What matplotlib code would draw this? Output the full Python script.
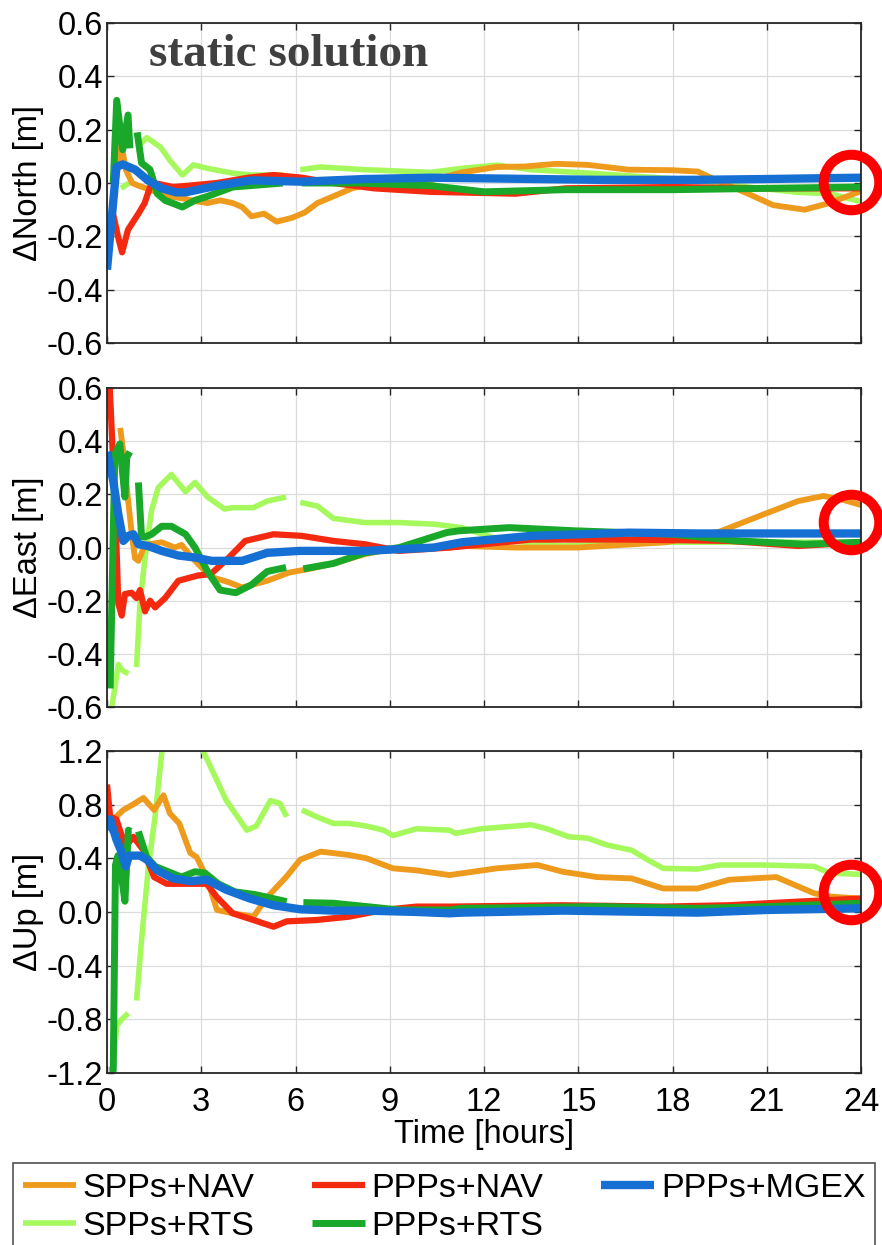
import numpy as np
import matplotlib
matplotlib.use("Agg")
import matplotlib.pyplot as plt

nan = np.nan

# ---- series: (time [h], offset [m]) per component ----
series_names = ["SPPs+RTS", "SPPs+NAV", "PPPs+NAV", "PPPs+RTS", "PPPs+MGEX"]

# North
n_spp_nav_t = [0.3, 0.45, 0.6, 0.8, 1.0, 1.5, 2.0, 2.5, 2.9, 3.2, 3.6, 4.0, 4.3, 4.6, 5.0, 5.4, 5.9, 6.3, 6.7, 7.2, 7.8, 8.5,
               10.3, 11.3, 12.4, 13.3, 14.3, 15.3, 16.6, 18.0, 18.8, 19.5, 20.4, 21.2, 22.2, 23.0, 24.0]
n_spp_nav = [0.02, 0.15, 0.05, 0.0, -0.01, -0.03, -0.05, -0.06, -0.07, -0.075, -0.065, -0.075, -0.09, -0.125, -0.115, -0.145,
             -0.13, -0.11, -0.075, -0.05, -0.02, 0.0, 0.01, 0.04, 0.06, 0.062, 0.072, 0.068, 0.05, 0.048, 0.043, 0.005, -0.04,
             -0.083, -0.1, -0.075, -0.03]
n_ppp_nav_t = [0.05, 0.2, 0.35, 0.48, 0.67, 1.0, 1.2, 1.37, 1.5, 2.1, 2.6, 3.5, 4.5, 5.3, 6.2, 7.2, 8.5, 10.3, 13.0, 14.6,
               18.0, 21.0, 24.0]
n_ppp_nav = [-0.21, -0.12, -0.2, -0.26, -0.175, -0.115, -0.075, -0.015, 0.0, -0.015, -0.01, 0.0, 0.02, 0.03, 0.02, 0.0,
             -0.02, -0.033, -0.04, -0.02, -0.015, -0.02, -0.02]
n_spp_rts_t = [0.45, 0.7, 0.85, 1.0, 1.27, 1.7, 2.0, 2.4, 2.75, 3.2, 4.0, 4.6, 5.6, 5.85, 6.15, 6.8, 8.2, 10.3, 11.3, 12.4,
               13.5, 15.6, 18.8, 20.4, 22.0, 23.0, 24.0]
n_spp_rts = [-0.02, 0.0, nan, 0.14, 0.17, 0.135, 0.085, 0.03, 0.068, 0.055, 0.037, 0.03, 0.03, nan, 0.05, 0.06, 0.05, 0.04,
             0.055, 0.067, 0.05, 0.035, 0.01, -0.015, -0.035, -0.04, -0.07]
n_ppp_rts_t = [0.2, 0.31, 0.5, 0.67, 0.73, 0.85, 0.96, 1.1, 1.37, 1.6, 1.85, 2.4, 2.8, 3.2, 4.0, 5.6, 5.85, 6.2, 8.0, 10.3,
               12.0, 14.6, 18.0, 21.0, 24.0]
n_ppp_rts = [0.0, 0.31, 0.125, 0.255, 0.13, nan, 0.19, 0.075, 0.05, -0.04, -0.065, -0.09, -0.065, -0.05, -0.015, 0.0, nan,
             0.0, 0.0, -0.01, -0.033, -0.025, -0.025, -0.02, -0.015]
n_ppp_mgex_t = [0.0, 0.3, 0.5, 0.9, 1.3, 1.75, 2.2, 2.5, 3.5, 4.6, 6.2, 8.2, 10.3, 15.6, 18.8, 21.0, 24.0]
n_ppp_mgex = [-0.325, 0.06, 0.07, 0.05, 0.01, -0.02, -0.035, -0.035, -0.01, 0.01, 0.005, 0.015, 0.02, 0.012, 0.012, 0.015,
              0.02]

# East
e_spp_nav_t = [0.42, 0.52, 0.63, 0.78, 0.89, 1.0, 1.21, 1.74, 2.16, 2.37, 2.8, 3.3, 3.86, 4.3, 5.1, 5.8, 6.45, 7.2, 8.2,
               9.3, 10.9, 11.3, 13.0, 15.0, 17.8, 19.5, 20.9, 22.0, 22.8, 23.4, 24.0]
e_spp_nav = [0.45, 0.36, 0.225, 0.06, -0.04, -0.05, 0.01, 0.02, 0.0, 0.01, -0.05, -0.11, -0.13, -0.15, -0.125, -0.094,
             -0.08, -0.06, -0.025, 0.0, 0.0, 0.006, 0.0, 0.0, 0.02, 0.06, 0.125, 0.175, 0.194, 0.18, 0.16]
e_ppp_nav_t = [0.08, 0.26, 0.36, 0.47, 0.57, 0.78, 0.94, 1.05, 1.21, 1.37, 1.53, 1.85, 2.27, 2.9, 3.3, 3.86, 4.4, 5.3, 6.2,
               7.2, 8.2, 9.3, 10.9, 13.5, 16.6, 19.8, 22.0, 24.0]
e_ppp_nav = [0.62, 0.16, -0.21, -0.256, -0.175, -0.17, -0.19, -0.16, -0.24, -0.2, -0.225, -0.19, -0.125, -0.105, -0.1,
             -0.04, 0.025, 0.05, 0.044, 0.025, 0.0125, -0.0125, 0.0, 0.03, 0.03, 0.025, 0.006, 0.02]
e_spp_rts_t = [0.13, 0.36, 0.47, 0.68, 0.8, 0.94, 1.05, 1.21, 1.42, 1.63, 2.05, 2.5, 2.8, 3.2, 3.74, 4.0, 4.66, 5.1, 5.7,
               5.9, 6.15, 6.7, 7.2, 8.2, 9.3, 10.4, 11.3, 12.5, 14.5, 17.8, 21.0, 24.0]
e_spp_rts = [-0.62, -0.44, -0.46, -0.475, nan, -0.45, -0.21, -0.04, 0.14, 0.225, 0.275, 0.21, 0.245, 0.19, 0.145, 0.15,
             0.15, 0.175, 0.19, nan, 0.17, 0.156, 0.11, 0.094, 0.094, 0.088, 0.075, 0.03, 0.006, 0.02, 0.02, 0.02]
e_ppp_rts_t = [0.1, 0.25, 0.41, 0.57, 0.63, 0.73, 0.85, 1.0, 1.1, 1.21, 1.42, 1.74, 2.05, 2.5, 2.8, 3.2, 3.6, 4.1, 4.6,
               5.1, 5.7, 5.9, 6.25, 7.2, 8.2, 9.3, 10.8, 11.2, 12.8, 14.9, 18.0, 20.1, 22.2, 24.0]
e_ppp_rts = [-0.53, 0.35, 0.39, 0.19, 0.34, 0.36, nan, 0.245, 0.04, 0.04, 0.05, 0.08, 0.08, 0.05, 0.0, -0.09, -0.16,
             -0.17, -0.14, -0.09, -0.075, nan, -0.08, -0.06, -0.02, 0.0, 0.056, 0.063, 0.075, 0.063, 0.05, 0.025, 0.0125,
             0.02]
e_ppp_mgex_t = [0.0, 0.2, 0.36, 0.52, 0.68, 0.84, 1.0, 1.3, 1.74, 2.27, 2.8, 3.33, 3.86, 4.3, 5.1, 6.15, 8.2, 10.4, 11.3,
                13.5, 16.6, 18.8, 24.0]
e_ppp_mgex = [0.36, 0.25, 0.125, 0.025, 0.044, 0.05, 0.0125, 0.006, -0.0125, -0.03, -0.0375, -0.05, -0.05, -0.05, -0.02,
              -0.0125, -0.0125, 0.0, 0.02, 0.044, 0.056, 0.053, 0.053]

# Up
u_spp_nav_t = [0.15, 0.2, 0.52, 0.82, 1.16, 1.5, 1.8, 2.0, 2.3, 2.65, 2.85, 3.17, 3.5, 4.0, 4.66, 5.1, 5.7, 6.15, 6.8,
               7.7, 8.26, 9.1, 9.85, 10.9, 12.4, 13.7, 14.5, 15.6, 16.7, 17.7, 18.8, 19.8, 21.3, 22.0, 22.5, 23.0, 24.0]
u_spp_nav = [0.59, 0.69, 0.76, 0.8, 0.85, 0.76, 0.87, 0.735, 0.66, 0.44, 0.41, 0.26, 0.015, -0.01, -0.035, 0.11, 0.26,
             0.39, 0.45, 0.425, 0.4, 0.325, 0.31, 0.275, 0.325, 0.35, 0.3, 0.26, 0.25, 0.175, 0.175, 0.24, 0.26, 0.19,
             0.14, 0.115, 0.1]
u_ppp_nav_t = [0.0, 0.1, 0.3, 0.44, 0.6, 0.84, 1.16, 1.5, 1.9, 2.74, 3.17, 3.5, 4.0, 4.66, 5.3, 5.72, 6.67, 7.7, 8.8,
               9.85, 10.9, 14.5, 17.7, 19.8, 22.0, 24.0]
u_ppp_nav = [0.95, 0.71, 0.69, 0.59, 0.49, 0.56, 0.46, 0.26, 0.21, 0.21, 0.21, 0.11, -0.01, -0.06, -0.11, -0.07, -0.06,
             -0.035, 0.015, 0.04, 0.04, 0.05, 0.04, 0.05, 0.077, 0.1]
u_spp_rts_t = [0.15, 0.31, 0.47, 0.68, 0.8, 0.94, 1.1, 1.32, 1.53, 1.74, 2.2, 2.6, 3.0, 3.06, 3.8, 4.45, 4.75, 5.2, 5.5,
               5.72, 5.95, 6.2, 6.67, 7.2, 7.7, 8.26, 8.8, 9.1, 9.85, 10.9, 11.1, 11.9, 13.5, 14.0, 14.7, 15.3, 15.9,
               16.7, 17.2, 17.7, 18.8, 19.5, 20.9, 22.5, 23.0, 24.0]
u_spp_rts = [-1.25, -0.85, -0.8, -0.755, nan, -0.66, -0.21, 0.34, 0.71, 1.18, 1.6, 1.7, 1.4, 1.2, 0.83, 0.61, 0.64, 0.83,
             0.81, 0.71, nan, 0.76, 0.71, 0.66, 0.66, 0.64, 0.61, 0.57, 0.62, 0.61, 0.586, 0.62, 0.65, 0.62, 0.56, 0.55,
             0.5, 0.46, 0.39, 0.325, 0.32, 0.35, 0.35, 0.34, 0.29, 0.28]
u_ppp_rts_t = [0.08, 0.2, 0.27, 0.35, 0.5, 0.57, 0.68, 0.75, 0.85, 1.0, 1.26, 1.53, 1.95, 2.37, 2.8, 3.12, 3.54, 4.07,
               4.7, 5.1, 5.72, 5.95, 6.25, 7.2, 8.26, 9.3, 10.9, 11.3, 15.6, 18.8, 21.0, 24.0]
u_ppp_rts = [-1.18, -1.18, 0.35, 0.42, 0.2, 0.08, 0.61, 0.6, nan, 0.6, 0.41, 0.34, 0.3, 0.26, 0.3, 0.29, 0.21, 0.15,
             0.13, 0.11, 0.077, nan, 0.07, 0.065, 0.04, 0.015, 0.015, 0.027, 0.04, 0.027, 0.04, 0.065]
u_ppp_mgex_t = [0.0, 0.1, 0.3, 0.44, 0.6, 0.7, 1.05, 1.27, 1.6, 2.1, 2.65, 3.17, 3.8, 4.55, 5.3, 6.15, 7.2, 8.26, 9.85,
                10.9, 11.3, 14.5, 18.8, 21.0, 24.0]
u_ppp_mgex = [0.61, 0.69, 0.54, 0.46, 0.34, 0.42, 0.42, 0.39, 0.31, 0.25, 0.23, 0.24, 0.165, 0.1, 0.05, 0.02, 0.01, 0.01,
              0.0, -0.01, -0.005, 0.01, -0.005, 0.015, 0.027]

# highlighted end-of-day positions (t, value) per panel
mark_t = 23.68
mark_v = [0.004, 0.096, 0.149]

panels = [
    ("\u0394North [m]", (-0.6, 0.6), np.arange(-0.6, 0.61, 0.2),
     [(n_spp_rts_t, n_spp_rts), (n_spp_nav_t, n_spp_nav), (n_ppp_nav_t, n_ppp_nav),
      (n_ppp_rts_t, n_ppp_rts), (n_ppp_mgex_t, n_ppp_mgex)]),
    ("\u0394East [m]", (-0.6, 0.6), np.arange(-0.6, 0.61, 0.2),
     [(e_spp_rts_t, e_spp_rts), (e_spp_nav_t, e_spp_nav), (e_ppp_nav_t, e_ppp_nav),
      (e_ppp_rts_t, e_ppp_rts), (e_ppp_mgex_t, e_ppp_mgex)]),
    ("\u0394Up [m]", (-1.2, 1.2), np.arange(-1.2, 1.21, 0.4),
     [(u_spp_rts_t, u_spp_rts), (u_spp_nav_t, u_spp_nav), (u_ppp_nav_t, u_ppp_nav),
      (u_ppp_rts_t, u_ppp_rts), (u_ppp_mgex_t, u_ppp_mgex)]),
]

styles = {
    "SPPs+RTS": dict(color="#a6f95c", lw=4.0),
    "SPPs+NAV": dict(color="#ee9a1c", lw=4.2),
    "PPPs+NAV": dict(color="#f42a10", lw=4.5),
    "PPPs+RTS": dict(color="#19a82a", lw=5.0),
    "PPPs+MGEX": dict(color="#1670d4", lw=6.0),
}

plt.rcParams["font.family"] = ["Liberation Sans", "DejaVu Sans"]

fig = plt.figure(figsize=(8.82, 12.45), dpi=100)
rects = [
    [0.1213, 0.7245, 0.855, 0.2570],
    [0.1213, 0.4321, 0.855, 0.2562],
    [0.1213, 0.1382, 0.855, 0.2586],
]

handles = {}
for i, (ylab, ylim, yticks, data) in enumerate(panels):
    ax = fig.add_axes(rects[i])
    for name, (t, v) in zip(series_names, data):
        ln, = ax.plot(t, v, solid_capstyle="butt", **styles[name])
        handles[name] = ln
    ax.plot([mark_t], [mark_v[i]], "o", ms=40, mfc="none", mec="#ff0000", mew=7.2,
            clip_on=False, zorder=10)

    ax.set_xlim(0, 24)
    ax.set_ylim(*ylim)
    ax.set_xticks(np.arange(0, 25, 3))
    ax.set_yticks(yticks)
    ax.set_yticklabels([f"{y:.1f}" for y in yticks])
    ax.grid(True, color="#dcdcdc", lw=0.9)
    ax.set_axisbelow(True)
    ax.tick_params(direction="in", top=True, right=True, length=5, width=1.0,
                   labelsize=23.5, pad=3, color="#262626")
    ax.tick_params(axis="x", pad=10)
    for sp in ax.spines.values():
        sp.set_color("#262626")
        sp.set_linewidth(1.3)
    ax.set_ylabel(ylab, fontsize=23.5)
    ax.yaxis.set_label_coords(-0.084, 0.5)
    if i < 2:
        ax.tick_params(axis="x", labelbottom=False)
    else:
        ax.set_xlabel("Time [hours]", fontsize=23.5, labelpad=1)
    if i == 0:
        ax.text(0.241, 0.90, "static solution", transform=ax.transAxes, ha="center", va="center",
                fontsize=34, fontweight="bold", family="Liberation Serif", color="#404040")

# legend laid out row-wise: row 1 NAV/NAV/MGEX, row 2 RTS/RTS
order = ["SPPs+NAV", "SPPs+RTS", "PPPs+NAV", "PPPs+RTS", "PPPs+MGEX"]
leg = fig.legend([handles[k] for k in order], order, loc="upper left",
                 bbox_to_anchor=(0.015, 1 - 1163 / 1245, 0.977, 0.0), mode="expand", ncol=3,
                 fontsize=24.5, frameon=True, fancybox=False, edgecolor="#262626",
                 handlelength=1.55, handletextpad=0.2, labelspacing=0.22, borderpad=0.28,
                 borderaxespad=0.0)
leg.get_frame().set_linewidth(1.2)

fig.savefig("out.png", dpi=100)
